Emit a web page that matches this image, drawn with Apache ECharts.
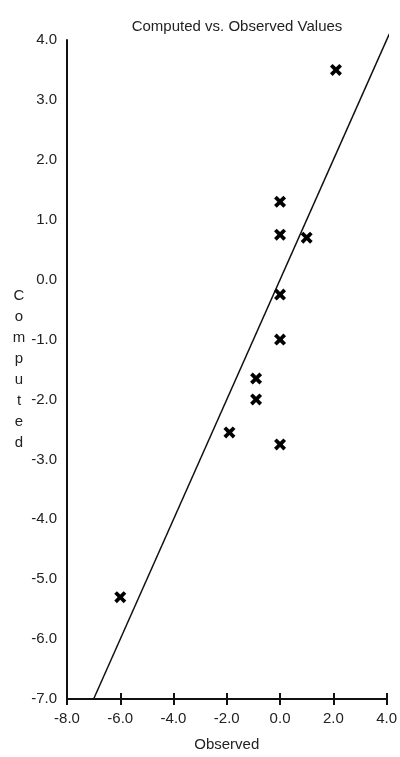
<!DOCTYPE html>
<html>
<head>
<meta charset="utf-8">
<script src="https://cdn.jsdelivr.net/npm/echarts@6/dist/echarts.min.js"></script>
<style>
  html, body { margin: 0; padding: 0; background: #fff; }
  #chart { width: 400px; height: 757px; }
</style>
</head>
<body>
<div id="chart"></div>
<script>
// values
var observed = [2.1, 0.0, 0.0, 1.0, 0.0, 0.0, -0.9, -0.9, -1.9, 0.0, -6.0];
var computed = [3.5, 1.3, 0.75, 0.7, -0.25, -1.0, -1.65, -2.0, -2.55, -2.75, -5.3];
// 1:1 reference line
var lineX = [-7.0, 4.1];
var lineY = [-7.0, 4.1];

var textColor = '#222';
var font = 'Liberation Sans, Arial, sans-serif';
var crossSymbol = 'path://M0,2.2 L2.2,0 L5,2.8 L7.8,0 L10,2.2 L7.2,5 L10,7.8 L7.8,10 L5,7.2 L2.2,10 L0,7.8 L2.8,5 Z';

var chart = echarts.init(document.getElementById('chart'));
chart.setOption({
  animation: false,
  title: {
    text: 'Computed vs. Observed Values',
    left: 232,
    top: 14,
    textAlign: 'center',
    textStyle: { fontFamily: font, fontSize: 15, fontWeight: 'normal', color: textColor }
  },
  grid: { left: 67, right: 13, top: 40, bottom: 58 },
  xAxis: [{
    type: 'value',
    min: -8, max: 4, interval: 2,
    name: 'Observed',
    nameLocation: 'middle',
    nameGap: 38,
    nameTextStyle: { fontFamily: font, fontSize: 15, color: textColor },
    axisLine: { show: true, onZero: false, lineStyle: { color: '#111', width: 2 } },
    axisTick: { show: true, inside: true, length: 6, lineStyle: { color: '#111', width: 2 } },
    axisLabel: {
      margin: 12, fontFamily: font, fontSize: 15, color: textColor,
      formatter: function (v) { return v.toFixed(1); }
    },
    splitLine: { show: false }
  }, {
    // second copy only for the downward half of the crossing ticks
    type: 'value',
    min: -8, max: 4, interval: 2,
    position: 'bottom',
    axisLine: { show: false, onZero: false },
    axisTick: { show: true, inside: false, length: 6, lineStyle: { color: '#111', width: 2 } },
    axisLabel: { show: false },
    splitLine: { show: false }
  }],
  yAxis: {
    type: 'value',
    min: -7, max: 4, interval: 1,
    name: 'C\no\nm\np\nu\nt\ne\nd',
    nameLocation: 'middle',
    nameRotate: 0,
    nameGap: 47,
    nameTextStyle: { fontFamily: font, fontSize: 15, lineHeight: 21, color: textColor, align: 'center' },
    axisLine: { show: true, onZero: false, lineStyle: { color: '#111', width: 2 } },
    axisTick: { show: false },
    axisLabel: {
      margin: 10, fontFamily: font, fontSize: 15, color: textColor,
      formatter: function (v) { return v.toFixed(1); }
    },
    splitLine: { show: false }
  },
  series: [{
    type: 'line',
    data: lineX.map(function (x, i) { return [x, lineY[i]]; }),
    showSymbol: false,
    clip: false,
    lineStyle: { color: '#111', width: 1.5 },
    z: 2
  }, {
    type: 'scatter',
    data: observed.map(function (x, i) { return [x, computed[i]]; }),
    symbol: crossSymbol,
    symbolSize: 12,
    itemStyle: { color: '#000', opacity: 1 },
    emphasis: { disabled: true },
    z: 3
  }]
});
</script>
</body>
</html>
